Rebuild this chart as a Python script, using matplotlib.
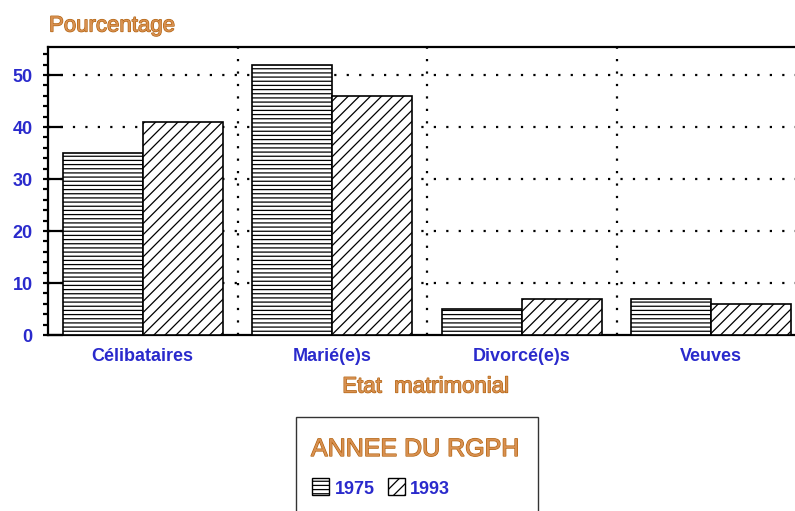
import matplotlib
matplotlib.use("Agg")
import matplotlib.pyplot as plt
import matplotlib.patheffects as pe
from matplotlib.patches import Rectangle
from matplotlib.ticker import MultipleLocator
import numpy as np

categories = ["Célibataires", "Marié(e)s", "Divorcé(e)s", "Veuves"]
years = ["1975", "1993"]
values_1975 = [35, 52, 5, 7]
values_1993 = [41, 46, 7, 6]
hatches = ["----", "///"]

BLUE = "#2a2acc"
ORANGE_FILL = "#d89050"
ORANGE_EDGE = "#b0600c"
FONT = "Liberation Sans"

plt.rcParams["font.family"] = [FONT, "DejaVu Sans"]
plt.rcParams["hatch.linewidth"] = 0.9
plt.rcParams["hatch.color"] = "black"

W, H = 795, 511
fig = plt.figure(figsize=(W / 100, H / 100), dpi=100)
left, right, top, bottom = 48, 806, 47, 335
ax = fig.add_axes([left / W, 1 - bottom / H, (right - left) / W, (bottom - top) / H])

x = np.arange(len(categories))
bw = 0.422
for i, (vals, h) in enumerate(zip([values_1975, values_1993], hatches)):
    ax.bar(x + (i - 0.5) * bw, vals, width=bw, facecolor="white", edgecolor="black",
           linewidth=1.2, hatch=h, zorder=3)

ax.set_xlim(-0.5, len(categories) - 0.5)
ax.set_ylim(0, 55.4)

dot = (0, (1, 4.6))
for yv in range(10, 55, 10):
    ax.axhline(yv, color="black", lw=1.6, linestyle=dot, zorder=1)
for xv in np.arange(0.5, len(categories) - 0.5, 1):
    ax.axvline(xv, color="black", lw=1.6, linestyle=dot, zorder=1)

for s in ["left", "bottom", "top", "right"]:
    ax.spines[s].set_linewidth(1.6)

ax.set_xticks(x)
ax.set_xticklabels(categories)
ax.tick_params(axis="x", length=0, pad=9, labelsize=13, labelcolor=BLUE)
for t in ax.get_xticklabels():
    t.set_fontweight("bold")

ax.yaxis.set_major_locator(MultipleLocator(10))
ax.yaxis.set_minor_locator(MultipleLocator(2))
ax.yaxis.remove_overlapping_locs = False
ax.tick_params(axis="y", which="major", direction="in", length=11, width=1.6,
               pad=11, labelsize=13, labelcolor=BLUE)
ax.tick_params(axis="y", which="minor", direction="out", length=3.6, width=1.6)
for t in ax.get_yticklabels():
    t.set_fontweight("bold")

stroke = [pe.withStroke(linewidth=0.9, foreground=ORANGE_EDGE)]

fig.text(49 / W, 1 - 26 / H, "Pourcentage", fontsize=16, color=ORANGE_FILL,
         ha="left", va="center", path_effects=stroke)
fig.text(426 / W, 1 - 387 / H, "Etat  matrimonial", fontsize=16, color=ORANGE_FILL,
         ha="center", va="center", path_effects=stroke)

# Legend box
fig.patches.append(Rectangle((296 / W, 1 - 530 / H), (538 - 296) / W, (530 - 417) / H,
                             transform=fig.transFigure, facecolor="white",
                             edgecolor="#333333", linewidth=1.0, clip_on=False))
fig.text(311 / W, 1 - 449 / H, "ANNEE DU RGPH", fontsize=18, color=ORANGE_FILL,
         ha="left", va="center", path_effects=stroke)
patch_x = [312, 388]
text_x = [335, 410]
for px, tx, h, lab in zip(patch_x, text_x, hatches, years):
    fig.patches.append(Rectangle((px / W, 1 - 495 / H), 17 / W, 17 / H,
                                 transform=fig.transFigure, facecolor="white",
                                 edgecolor="black", linewidth=1.0, hatch=h))
    fig.text(tx / W, 1 - 489 / H, lab, fontsize=13, color=BLUE, fontweight="bold",
             ha="left", va="center")

fig.savefig("out.png", dpi=100)
